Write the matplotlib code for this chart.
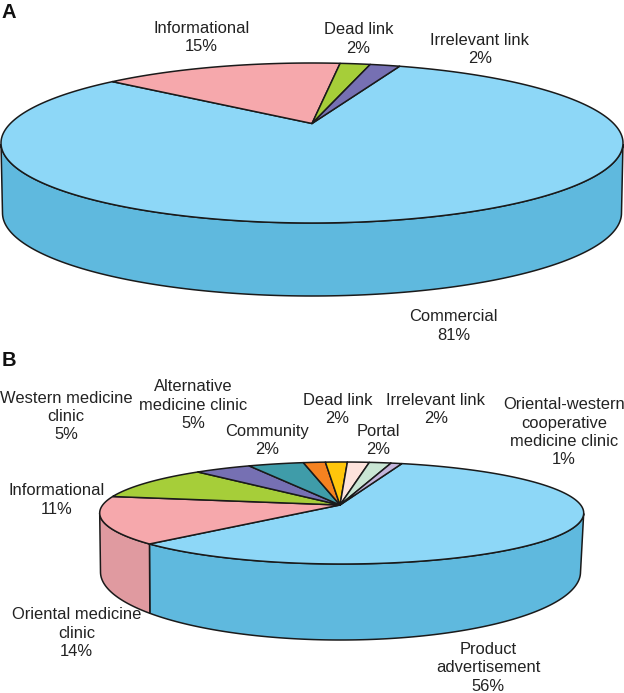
import numpy as np
import matplotlib
matplotlib.use('Agg')
import matplotlib.pyplot as plt
from matplotlib.patches import Polygon

plt.rcParams['font.family'] = ['Liberation Sans', 'DejaVu Sans']

# Panel A
names_a = ['Commercial', 'Informational', 'Dead link', 'Irrelevant link']
values_a = [81, 15, 2, 2]
top_a = ['#8DD7F7', '#F6A8AC', '#A6CE39', '#7670B3']
side_a = ['#5FB9DE', '#E09AA0', '#8FB030', '#625D99']

# Panel B
names_b = ['Product\nadvertisement', 'Oriental medicine\nclinic', 'Informational',
           'Western medicine\nclinic', 'Alternative\nmedicine clinic', 'Community',
           'Dead link', 'Portal', 'Irrelevant link',
           'Oriental-western\ncooperative\nmedicine clinic']
values_b = [56, 14, 11, 5, 5, 2, 2, 2, 2, 1]
top_b = ['#8DD7F7', '#F6A8AC', '#A6CE39', '#7670B3', '#3F9CA9', '#F58220',
         '#FFC60B', '#FDE3DC', '#C9E6D4', '#C4B5DC']
side_b = ['#5FB9DE', '#E09AA0', '#8FB030', '#625D99', '#358692', '#D06E1B',
          '#D9A809', '#D7C1BB', '#ABC4B4', '#A79ABB']

# label centres in pixels
label_pos_a = [(453.6, 326), (201.7, 37.5), (358.5, 39), (480, 49.5)]
label_pos_b = [(488, 668), (76.4, 633), (56.5, 500), (66, 416.7), (193, 405),
               (267, 440.5), (337.5, 409.5), (378, 440.5), (435.7, 409.5), (564, 432.3)]


def draw_pie(ax, values, tops, sides, top_ell, bot_ell, apex, persp, start_deg):
    cx, cy, rx, ry = top_ell
    bx, by, brx, bry = bot_ell
    # persp bends the even circle so the far slices get squeezed, like the 3D view
    theta = start_deg
    walls = []
    wedges = []
    for v, t, s in zip(values, tops, sides):
        sweep = v / sum(values) * 360
        th = np.radians(np.linspace(theta, theta + sweep, 300))
        z = np.exp(1j * th)
        w = (z + persp) / (1 + np.conj(persp) * z)
        xt, yt = cx + rx * w.real, cy + ry * w.imag
        front = w.imag >= 0
        if front.any():
            xb, yb = bx + brx * w.real, by + bry * w.imag
            pts = np.r_[np.c_[xt[front], yt[front]], np.c_[xb[front], yb[front]][::-1]]
            walls.append(Polygon(pts, closed=True, fc=s, ec='#1a1a1a', lw=1.1))
        pts = np.r_[[apex], np.c_[xt, yt]]
        wedges.append(Polygon(pts, closed=True, fc=t, ec='#1a1a1a', lw=1.1, joinstyle='round'))
        theta += sweep
    for p in walls + wedges:
        ax.add_patch(p)


fig = plt.figure(figsize=(6.24, 6.93), dpi=100)
ax = fig.add_axes([0, 0, 1, 1])
ax.set_xlim(0, 624)
ax.set_ylim(693, 0)
ax.axis('off')

draw_pie(ax, values_a, top_a, side_a, (312, 143, 311, 80), (312, 213, 309.5, 83),
         (312, 123.5), complex(0.05, -0.12), -75.5)
draw_pie(ax, values_b, top_b, side_b, (341.7, 513, 242, 51), (340.5, 572, 240, 68),
         (340, 505), complex(0.01, -0.16), -71.5)

for names, values, pos in [(names_a, values_a, label_pos_a), (names_b, values_b, label_pos_b)]:
    for n, v, (x, y) in zip(names, values, pos):
        ax.text(x, y, f'{n}\n{v}%', ha='center', va='center', fontsize=11.9,
                linespacing=1.27, color='#222222')

ax.text(1, 13, 'A', fontsize=14.5, fontweight='bold', ha='left', va='center', color='#111111')
ax.text(2, 360, 'B', fontsize=14.5, fontweight='bold', ha='left', va='center', color='#111111')

plt.savefig('out.png', dpi=100)
